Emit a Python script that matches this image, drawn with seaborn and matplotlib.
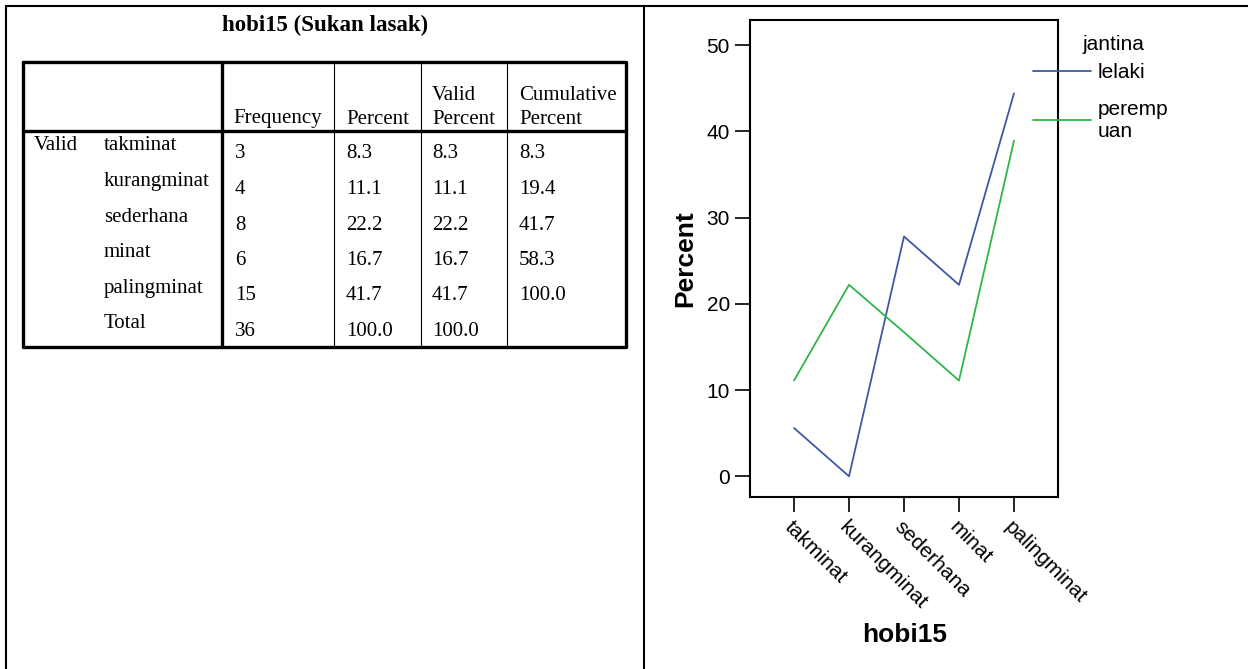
import pandas as pd
import matplotlib
matplotlib.use("Agg")
import matplotlib.pyplot as plt
import seaborn as sns

# data
categories = ['takminat', 'kurangminat', 'sederhana', 'minat', 'palingminat']
frequency = ['3', '4', '8', '6', '15']
percent = ['8.3', '11.1', '22.2', '16.7', '41.7']
valid_percent = ['8.3', '11.1', '22.2', '16.7', '41.7']
cumulative = ['8.3', '19.4', '41.7', '58.3', '100.0']
total_row = ['36', '100.0', '100.0', '']
lelaki_pct = [5.6, 0.0, 27.8, 22.2, 44.4]
perempuan_pct = [11.1, 22.2, 16.7, 11.1, 38.9]
yticks = [0, 10, 20, 30, 40, 50]

sns.set_style("white")
plt.rcParams['font.family'] = ['Liberation Sans', 'DejaVu Sans']
plt.rcParams['text.color'] = 'black'
plt.rcParams['axes.labelcolor'] = 'black'

W, H = 1248, 669
fig = plt.figure(figsize=(W / 100, H / 100), dpi=100)

# background layer in pixel coords: frame + table
bg = fig.add_axes([0, 0, 1, 1])
bg.set_xlim(0, W)
bg.set_ylim(H, 0)
bg.axis('off')

frame_lw = 1.5
bg.plot([6, W], [6, 6], color='black', lw=frame_lw)
bg.plot([6, 6], [6, H], color='black', lw=frame_lw)
bg.plot([644, 644], [6, H], color='black', lw=frame_lw)

serif = ['Liberation Serif', 'DejaVu Serif']
bg.text(325, 25, 'hobi15 (Sukan lasak)', family=serif, fontsize=16.5, fontweight='bold',
        ha='center', va='center')

# table grid
tl, tr, tt, tb, th = 23, 626, 62, 347, 131
thick = 2.4
bg.plot([tl, tr, tr, tl, tl], [tt, tt, tb, tb, tt], color='black', lw=thick)
bg.plot([tl, tr], [th, th], color='black', lw=thick)
bg.plot([222, 222], [tt, tb], color='black', lw=thick)
for xv in [334, 421, 507]:
    bg.plot([xv, xv], [tt, tb], color='black', lw=0.8)

cols_x = [235, 346, 432, 519]
tfs = 15
bg.text(233, 119, 'Frequency', family=serif, fontsize=tfs, va='center')
bg.text(346, 119, 'Percent', family=serif, fontsize=tfs, va='center')
bg.text(432, 96, 'Valid', family=serif, fontsize=tfs, va='center')
bg.text(432, 119, 'Percent', family=serif, fontsize=tfs, va='center')
bg.text(519, 96, 'Cumulative', family=serif, fontsize=tfs, va='center')
bg.text(519, 119, 'Percent', family=serif, fontsize=tfs, va='center')
bg.text(34, 146, 'Valid', family=serif, fontsize=tfs, va='center')

row_h = 35.5
rows = list(zip(categories, frequency, percent, valid_percent, cumulative))
rows.append(('Total',) + tuple(total_row))
for i, row in enumerate(rows):
    yl = 146 + i * row_h
    bg.text(104, yl, row[0], family=serif, fontsize=tfs, va='center')
    for xv, val in zip(cols_x, row[1:]):
        bg.text(xv, yl + 8, val, family=serif, fontsize=tfs, va='center')

# chart
df = pd.DataFrame({
    'hobi15': categories * 2,
    'Percent': lelaki_pct + perempuan_pct,
    'jantina': ['lelaki'] * 5 + ['perempuan'] * 5,
})
ax = fig.add_axes([750 / W, 172 / H, 308 / W, 477 / H])
sns.lineplot(data=df, x='hobi15', y='Percent', hue='jantina', sort=False,
             palette={'lelaki': '#3f57a6', 'perempuan': '#2fb54a'}, lw=1.3, ax=ax)
ax.set_xlim(-0.8, 4.8)
ax.set_ylim(-2.4, 52.9)
ax.set_yticks(yticks)
for s in ax.spines.values():
    s.set_linewidth(1.5)
    s.set_color('black')
ax.tick_params(axis='both', which='both', direction='out', length=11, width=1.2,
               labelsize=15, pad=3.5, left=True, bottom=True, colors='black')
plt.setp(ax.get_xticklabels(), rotation=-45, ha='left', va='top', rotation_mode='anchor')
ax.set_ylabel('Percent', fontsize=19, fontweight='bold')
ax.yaxis.set_label_coords(-0.17, 0.5)
ax.set_xlabel('hobi15', fontsize=19, fontweight='bold')
ax.xaxis.set_label_coords(0.503, -0.265)

handles, labels = ax.get_legend_handles_labels()
labels = ['lelaki', 'peremp\nuan']
leg = ax.legend(handles, labels, loc='upper left', bbox_to_anchor=(1033 / W, 1 - 63 / H),
                bbox_transform=fig.transFigure, frameon=False, fontsize=15,
                handlelength=2.8, handletextpad=0.3, labelspacing=0.85,
                borderpad=0, borderaxespad=0)
for ln in leg.get_lines():
    ln.set_linewidth(1.3)
fig.text(1083 / W, 1 - 45 / H, 'jantina', fontsize=15, va='center', ha='left')

fig.savefig('out.png', dpi=100)
